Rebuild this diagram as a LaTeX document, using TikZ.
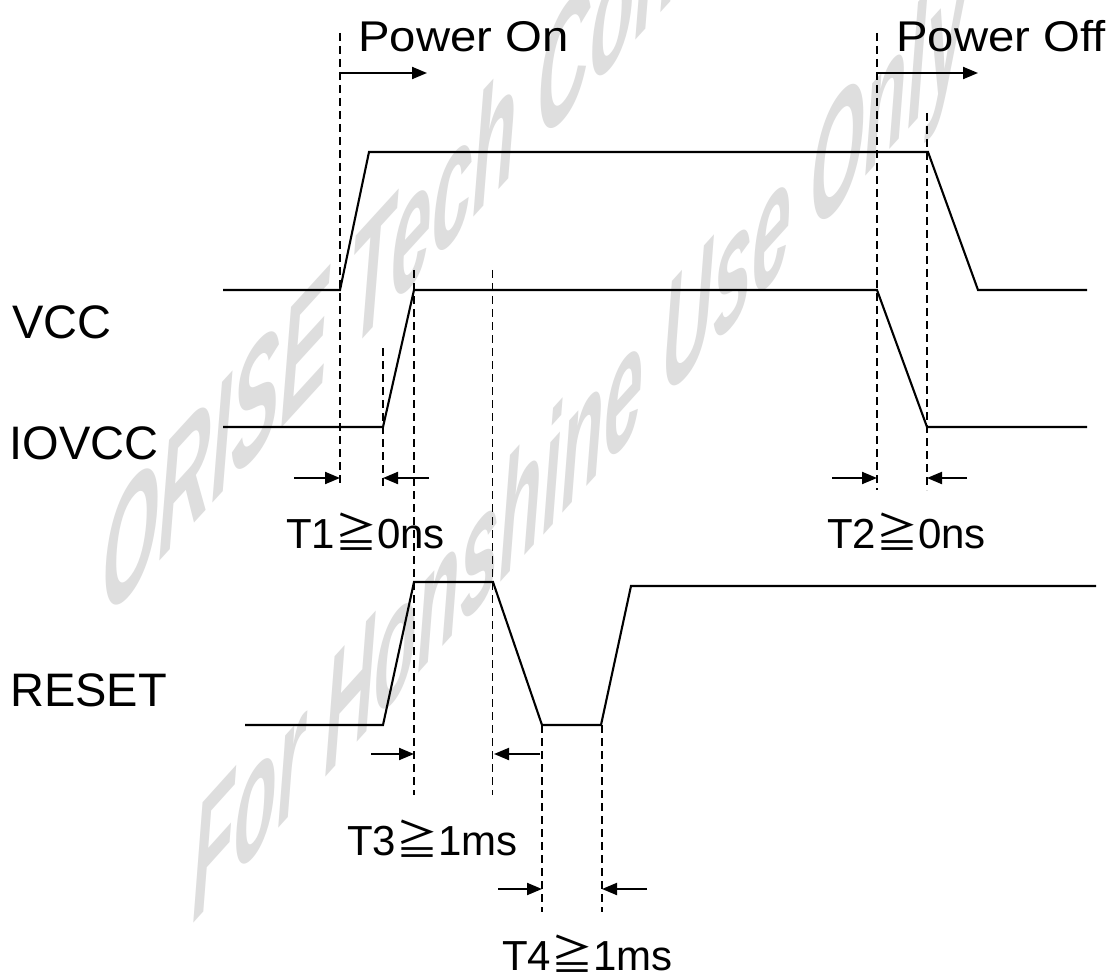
\documentclass[tikz,border=0pt]{standalone}
\usepackage{fontspec}
\usepackage{graphicx}
\setmainfont{Liberation Sans}
\newfontfamily\cjkfont{Noto Sans CJK JP}
\usetikzlibrary{arrows.meta}
\newcommand{\gqq}{{\cjkfont ≧}}
\begin{document}
\begin{tikzpicture}[x=1pt,y=-1pt,
  wave/.style={line width=2.1pt, line join=miter},
  guide/.style={line width=1.8pt, dash pattern=on 8pt off 5pt},
  tarrow/.style={line width=2pt, -{Triangle[length=15pt,width=12pt]}},
  lbl/.style={inner sep=0pt, anchor=base west, font=\fontsize{47}{47}\selectfont},
  tlbl/.style={inner sep=0pt, anchor=base west, font=\fontsize{42}{42}\selectfont},
  plbl/.style={inner sep=0pt, anchor=base west, font=\fontsize{43}{43}\selectfont},
  wm/.style={inner sep=0pt, anchor=base west, text=black!13,
    font=\fontsize{100}{100}\selectfont\bfseries\itshape, transform shape}
]
\useasboundingbox (0,0) rectangle (1116,976);
\fill[white] (0,0) rectangle (1116,976);

% watermark
\begin{scope}
  \clip (0,0) rectangle (1116,976);
  \begin{scope}[shift={(102,625)}]
    \node[wm, cm={0.73,0.80,0,1.6,(0,0)}] (wm1) at (0,0) {ORISE Tech Con};
  \end{scope}
  \begin{scope}[shift={(192,925)}]
    \node[wm, cm={0.70,0.777,0,1.6,(0,0)}] (wm2) at (0,0) {For Honshine Use Only};
  \end{scope}
\end{scope}

% dashed guide lines
\coordinate (d1t) at (340,33);  \coordinate (d1b) at (340,487);
\coordinate (d2t) at (383,348); \coordinate (d2b) at (383,487);
\coordinate (d3t) at (414,270); \coordinate (d3b) at (414,795);
\coordinate (d4t) at (492.5,270); \coordinate (d4b) at (492.5,795);
\coordinate (d5t) at (542,725); \coordinate (d5b) at (542,912);
\coordinate (d6t) at (602,725); \coordinate (d6b) at (602,912);
\coordinate (d7t) at (877,33);  \coordinate (d7b) at (877,490);
\coordinate (d8t) at (927,113); \coordinate (d8b) at (927,490);
\foreach \i in {1,...,8} {\draw[guide] (d\i t) -- (d\i b);}

% waveforms
\draw[wave] (223,290) -- (340,290) -- (369,152) -- (928,152) -- (978,290) -- (1087,290);
\draw[wave] (223,427) -- (383,427) -- (414,290) -- (877,290) -- (927,427) -- (1087,427);
\draw[wave] (245,725) -- (383,725) -- (414,582) -- (493,582) -- (542,725) -- (601,725) -- (631,586) -- (1096,586);

% arrows
\coordinate (pon1) at (340,73); \coordinate (pon2) at (427,73);
\coordinate (pof1) at (877,73); \coordinate (pof2) at (978,73);
\coordinate (a1) at (294,478); \coordinate (a1e) at (340,478);
\coordinate (a2) at (429,478); \coordinate (a2e) at (383,478);
\coordinate (b1) at (832,478); \coordinate (b1e) at (877,478);
\coordinate (b2) at (967,478); \coordinate (b2e) at (927,478);
\coordinate (c1) at (371,754); \coordinate (c1e) at (414,754);
\coordinate (c2) at (540,754); \coordinate (c2e) at (494,754);
\coordinate (e1) at (498,889); \coordinate (e1e) at (542,889);
\coordinate (e2) at (647,889); \coordinate (e2e) at (602,889);
\draw[tarrow] (pon1) -- (pon2);
\draw[tarrow] (pof1) -- (pof2);
\draw[tarrow] (a1) -- (a1e);
\draw[tarrow] (a2) -- (a2e);
\draw[tarrow] (b1) -- (b1e);
\draw[tarrow] (b2) -- (b2e);
\draw[tarrow] (c1) -- (c1e);
\draw[tarrow] (c2) -- (c2e);
\draw[tarrow] (e1) -- (e1e);
\draw[tarrow] (e2) -- (e2e);

% labels
\node[plbl] (pon) at (358,52) {\scalebox{1.1}[1]{Power On}};
\node[plbl] (poff) at (896,52) {\scalebox{1.1}[1]{Power Off}};
\node[lbl] (vcc) at (12,338) {VCC};
\node[lbl] (iovcc) at (9.5,459) {IOVCC};
\node[lbl] (reset) at (10,706) {RESET};
\node[tlbl] (t1) at (286,548) {T1\gqq 0ns};
\node[tlbl] (t2) at (827,548) {T2\gqq 0ns};
\node[tlbl] (t3) at (347,855) {T3\gqq 1ms};
\node[tlbl] (t4) at (502,970) {T4\gqq 1ms};
\end{tikzpicture}
\end{document}
